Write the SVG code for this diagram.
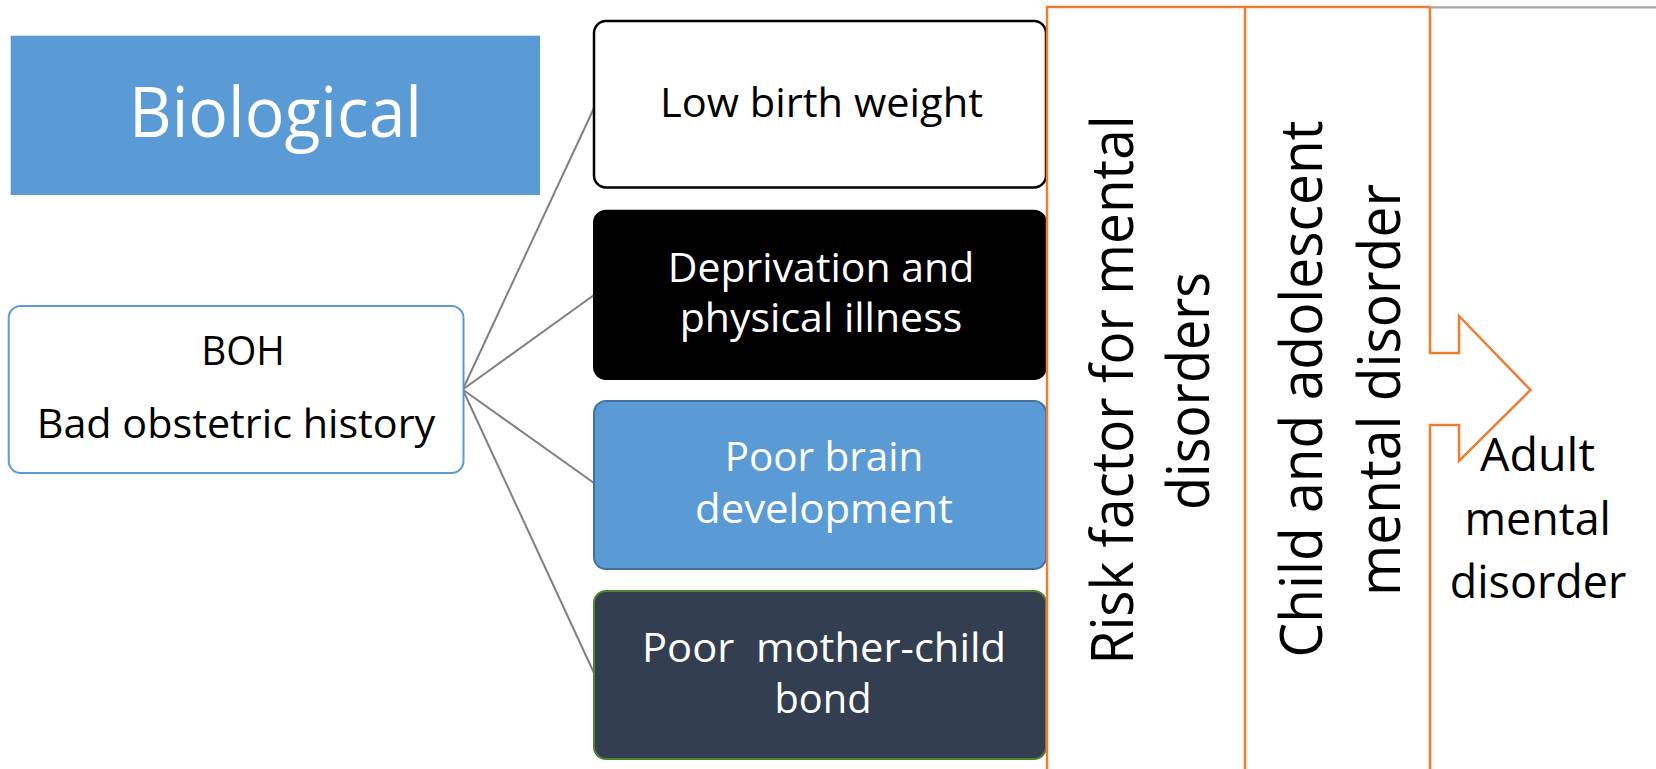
<svg xmlns="http://www.w3.org/2000/svg" width="1656" height="769" viewBox="0 0 1656 769">
<style>
text { font-family: "Open Sans", "Noto Sans", "Liberation Sans", sans-serif; text-anchor: middle; }
.conn { stroke: #808080; stroke-width: 2; fill: none; }
.orange { stroke: #ED7D31; stroke-width: 2.5; fill: none; }
.lbl { font-size: 41px; }
.big { font-size: 58px; fill: #000; }
</style>
<rect width="1656" height="769" fill="#fff"/>
<g id="connectors">
<line class="conn" x1="462.7" y1="389.5" x2="594" y2="108"/>
<line class="conn" x1="462.7" y1="389.5" x2="594" y2="295"/>
<line class="conn" x1="462.7" y1="389.5" x2="594" y2="483"/>
<line class="conn" x1="462.7" y1="389.5" x2="594" y2="673"/>
</g>
<g id="biological">
<rect x="10.7" y="35.7" width="529.3" height="159.3" fill="#5B9BD5"/>
<text x="275.5" y="136.7" font-size="70" fill="#fff" textLength="293" lengthAdjust="spacingAndGlyphs">Biological</text>
</g>
<g id="boh">
<rect x="8.7" y="306" width="454.8" height="167" rx="12" fill="#fff" stroke="#5B9BD5" stroke-width="2"/>
<text class="lbl" x="243" y="365" fill="#000" textLength="83.7" lengthAdjust="spacingAndGlyphs">BOH</text>
<text class="lbl" x="236" y="438.3" fill="#000" textLength="398.6" lengthAdjust="spacingAndGlyphs">Bad obstetric history</text>
</g>
<g id="low-birth-weight">
<rect x="594" y="21" width="452" height="166.5" rx="12" fill="#fff" stroke="#000" stroke-width="2.5"/>
<text class="lbl" x="821.5" y="117.3" fill="#000" textLength="323" lengthAdjust="spacingAndGlyphs">Low birth weight</text>
</g>
<g id="deprivation">
<rect x="594" y="210.7" width="452" height="168.3" rx="12" fill="#000" stroke="#000" stroke-width="2"/>
<text class="lbl" x="821" y="281.7" fill="#fff" textLength="306.5" lengthAdjust="spacingAndGlyphs">Deprivation and</text>
<text class="lbl" x="821" y="331.7" fill="#fff" textLength="282.5" lengthAdjust="spacingAndGlyphs">physical illness</text>
</g>
<g id="poor-brain">
<rect x="594" y="401" width="452" height="168" rx="12" fill="#5B9BD5" stroke="#41719C" stroke-width="2"/>
<text class="lbl" x="824" y="470.7" fill="#fff" textLength="198.7" lengthAdjust="spacingAndGlyphs">Poor brain</text>
<text class="lbl" x="824" y="523" fill="#fff" textLength="258" lengthAdjust="spacingAndGlyphs">development</text>
</g>
<g id="poor-bond">
<rect x="594" y="591" width="452" height="168" rx="12" fill="#333F50" stroke="#548235" stroke-width="2"/>
<text class="lbl" x="824" y="661.7" fill="#fff" textLength="364" lengthAdjust="spacingAndGlyphs" xml:space="preserve">Poor  mother-child</text>
<text class="lbl" x="823" y="713.3" fill="#fff" textLength="97" lengthAdjust="spacingAndGlyphs">bond</text>
</g>
<g id="stages">
<rect x="1047" y="7" width="383" height="770" fill="#fff"/>
<path d="M1430 7 V353 H1459 V316 L1530.5 390 L1459 461 V425 H1430 V769" fill="#fff"/>
<line x1="1430" y1="7.3" x2="1656" y2="7.3" stroke="#A5A5A5" stroke-width="2.2"/>
<path class="orange" d="M1047 769 V7 H1430"/>
<line class="orange" x1="1245" y1="7" x2="1245" y2="769"/>
<path class="orange" d="M1430 7 V353 H1459 V316 L1530.5 390 L1459 461 V425 H1430 V769"/>
</g>
<g id="risk-factor">
<text class="big" transform="translate(1133,390) rotate(-90)" textLength="549" lengthAdjust="spacingAndGlyphs">Risk factor for mental</text>
<text class="big" transform="translate(1209,391) rotate(-90)" textLength="238" lengthAdjust="spacingAndGlyphs">disorders</text>
</g>
<g id="child-adolescent">
<text class="big" transform="translate(1322,389) rotate(-90)" textLength="537" lengthAdjust="spacingAndGlyphs">Child and adolescent</text>
<text class="big" transform="translate(1399.6,390) rotate(-90)" textLength="412" lengthAdjust="spacingAndGlyphs">mental disorder</text>
</g>
<g id="adult">
<text x="1537.5" y="470.8" font-size="45" fill="#000" textLength="115" lengthAdjust="spacingAndGlyphs">Adult</text>
<text x="1537.7" y="534.6" font-size="45" fill="#000" textLength="146.5" lengthAdjust="spacingAndGlyphs">mental</text>
<text x="1538" y="598.3" font-size="45" fill="#000" textLength="176.6" lengthAdjust="spacingAndGlyphs">disorder</text>
</g>
</svg>
